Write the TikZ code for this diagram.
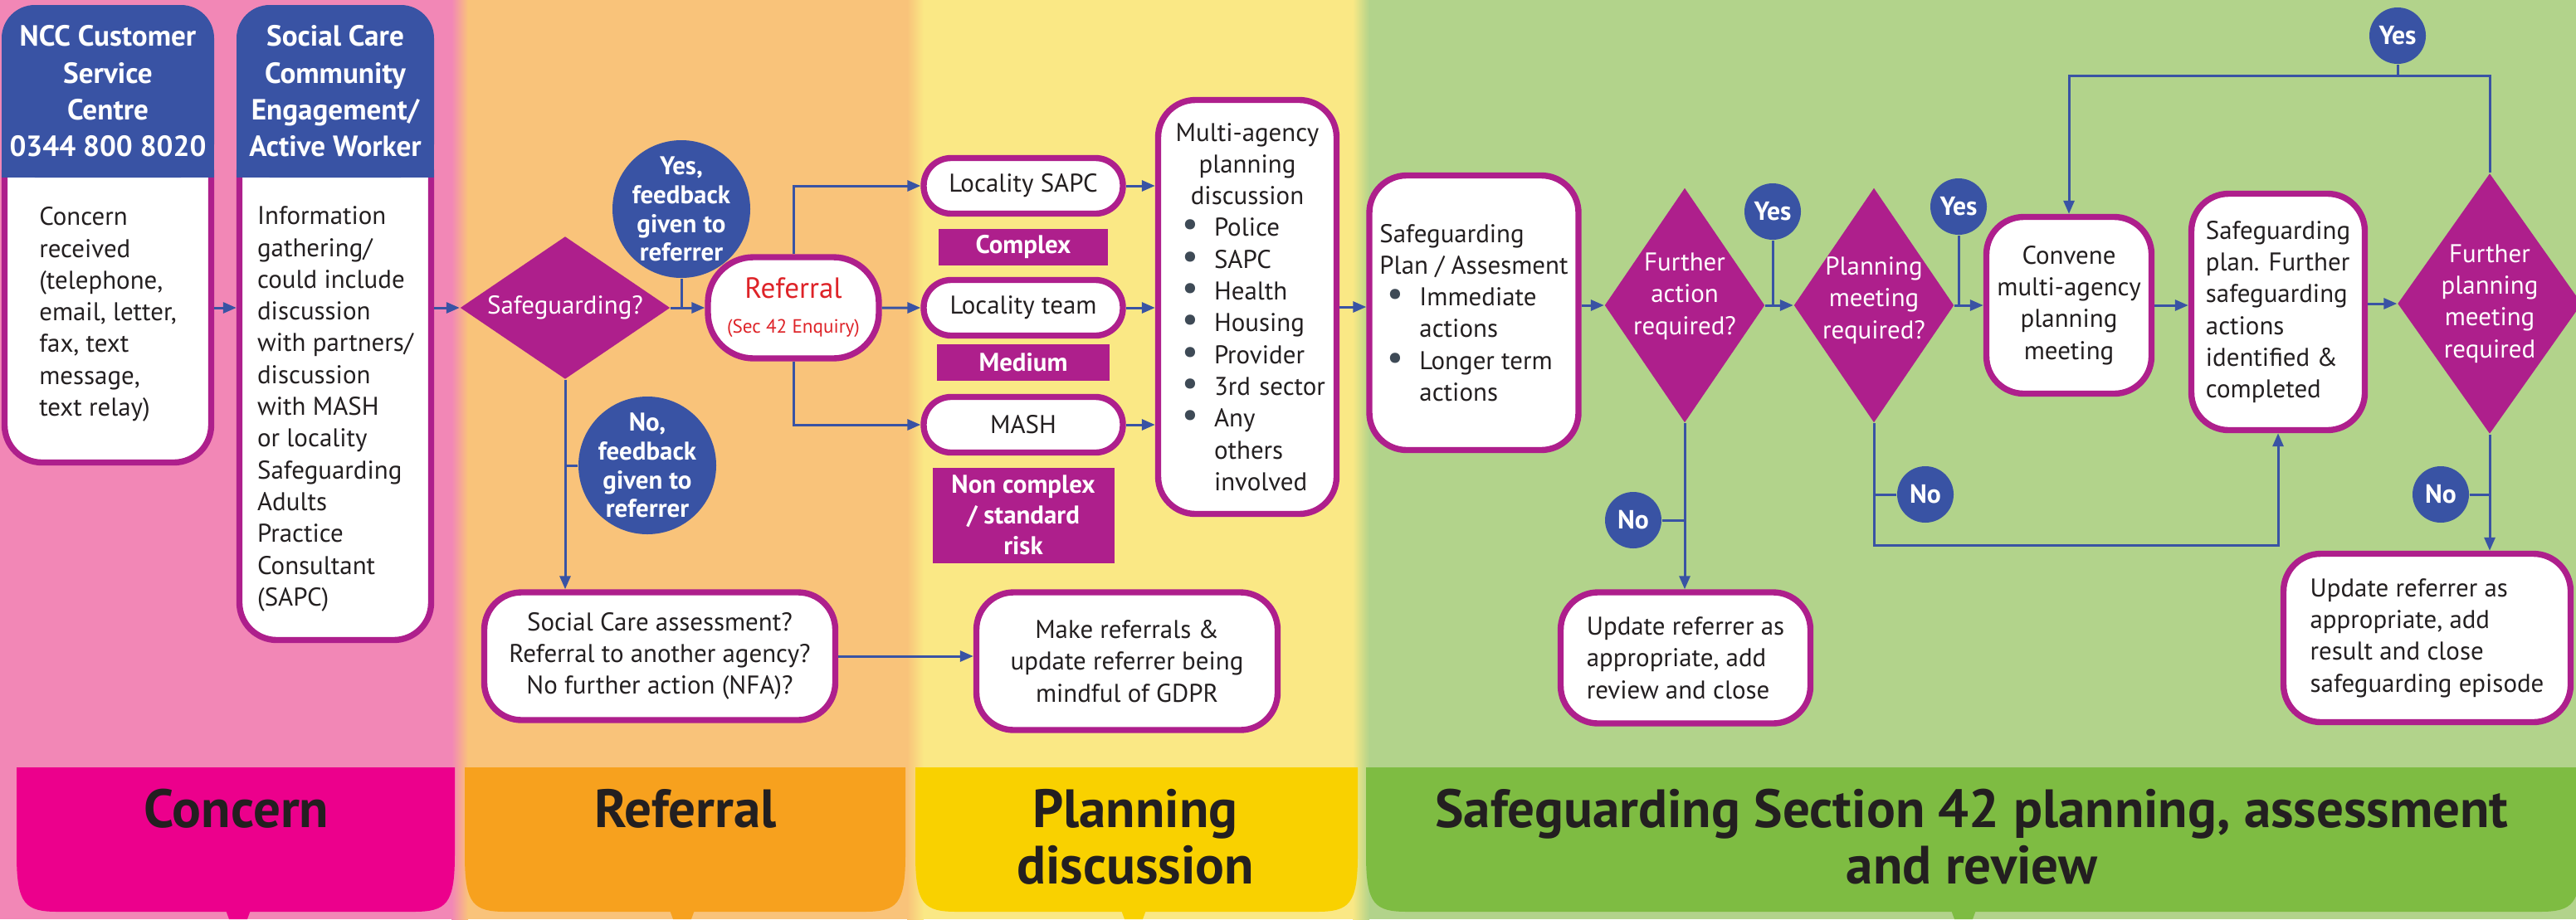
\documentclass[tikz,border=0pt]{standalone}
\usepackage{fontspec}
\setmainfont{PT Sans}
\usepackage{xcolor}
\usetikzlibrary{arrows.meta,shapes.geometric,positioning}

\definecolor{pinkbg}{RGB}{242,135,182}
\definecolor{orangebg}{RGB}{249,195,122}
\definecolor{yellowbg}{RGB}{250,232,133}
\definecolor{greenbg}{RGB}{178,211,139}
\definecolor{tabpink}{RGB}{236,0,140}
\definecolor{taborange}{RGB}{247,161,30}
\definecolor{tabyellow}{RGB}{249,209,0}
\definecolor{tabgreen}{RGB}{126,188,66}
\definecolor{boxmag}{RGB}{174,31,140}
\definecolor{ncblue}{RGB}{57,83,164}
\definecolor{txtdark}{RGB}{35,31,32}
\definecolor{refred}{RGB}{222,35,40}
\definecolor{dotgrey}{RGB}{62,74,86}

\newcommand{\agdot}{\makebox[0.39cm][l]{\smash{\textcolor{dotgrey}{\fontsize{12.5}{10}\selectfont\textbullet}}}}

\begin{document}
\begin{tikzpicture}[
  box/.style={draw=boxmag, line width=2.1pt, fill=white, rounded corners=0.45cm, text=txtdark, font=\fontsize{8.8}{10.9}\selectfont},
  loc/.style={box, rounded corners=0.33cm, minimum width=2.40cm, minimum height=0.67cm},
  bodytext/.style={text=txtdark, font=\fontsize{8.8}{10.9}\selectfont, align=left},
  hdrtext/.style={text=white, font=\bfseries\fontsize{10}{12.6}\selectfont, align=center},
  tag/.style={fill=boxmag, text=white, font=\bfseries\fontsize{8.8}{10.5}\selectfont, align=center, inner sep=0pt},
  dmd/.style={diamond, fill=boxmag, inner sep=0pt},
  dmdtext/.style={text=white, font=\fontsize{8.8}{10.9}\selectfont, align=center},
  fbk/.style={circle, fill=ncblue, minimum size=1.66cm, inner sep=0pt},
  fbktext/.style={text=white, font=\bfseries\fontsize{8.8}{9.9}\selectfont, align=center},
  yn/.style={circle, fill=ncblue, text=white, font=\bfseries\fontsize{9}{10}\selectfont, minimum size=0.68cm, inner sep=0pt},
  link/.style={draw=ncblue, line width=0.85pt},
  arr/.style={link, -{Triangle[length=0.16cm,width=0.13cm]}},
  tabtext/.style={text=txtdark, font=\bfseries\fontsize{18.5}{19.3}\selectfont, align=center}
]
\useasboundingbox (0,0) rectangle (31.04,-11.08);

% colour bands
\fill[pinkbg] (0,0) rectangle (5.54,-11.08);
\fill[orangebg] (5.54,0) rectangle (11.03,-11.08);
\fill[yellowbg] (11.03,0) rectangle (16.40,-11.08);
\fill[greenbg] (16.40,0) rectangle (31.04,-11.08);
\shade[left color=pinkbg, right color=orangebg] (5.44,0) rectangle (5.64,-11.08);
\shade[left color=orangebg, right color=yellowbg] (10.93,0) rectangle (11.13,-11.08);
\shade[left color=yellowbg, right color=greenbg] (16.30,0) rectangle (16.50,-11.08);

% stage tabs
\fill[tabpink] (0.20,-9.25) -- (0.20,-10.30) .. controls (0.20,-10.90) and (0.30,-10.99) .. (0.70,-10.99) -- (4.98,-10.99) .. controls (5.38,-10.99) and (5.48,-10.90) .. (5.48,-10.30) -- (5.48,-9.25) -- cycle;
\fill[tabpink] (2.72,-10.97) -- (2.76,-11.08) -- (2.98,-11.08) -- (3.02,-10.97) -- cycle;
\fill[taborange] (5.60,-9.25) -- (5.60,-10.30) .. controls (5.60,-10.90) and (5.70,-10.99) .. (6.10,-10.99) -- (10.41,-10.99) .. controls (10.81,-10.99) and (10.91,-10.90) .. (10.91,-10.30) -- (10.91,-9.25) -- cycle;
\fill[taborange] (8.07,-10.97) -- (8.11,-11.08) -- (8.33,-11.08) -- (8.37,-10.97) -- cycle;
\fill[tabyellow] (11.03,-9.25) -- (11.03,-10.30) .. controls (11.03,-10.90) and (11.13,-10.99) .. (11.53,-10.99) -- (15.86,-10.99) .. controls (16.26,-10.99) and (16.36,-10.90) .. (16.36,-10.30) -- (16.36,-9.25) -- cycle;
\fill[tabyellow] (13.51,-10.97) -- (13.55,-11.08) -- (13.77,-11.08) -- (13.81,-10.97) -- cycle;
\fill[tabgreen] (16.46,-9.25) -- (16.46,-10.30) .. controls (16.46,-10.90) and (16.56,-10.99) .. (16.96,-10.99) -- (30.60,-10.99) .. controls (31.00,-10.99) and (31.10,-10.90) .. (31.10,-10.30) -- (31.10,-9.25) -- cycle;
\fill[tabgreen] (23.51,-10.97) -- (23.55,-11.08) -- (23.77,-11.08) -- (23.81,-10.97) -- cycle;
\node[tabtext] (concerntab) at (2.85,-9.75) {Concern};
\node[tabtext] (referraltab) at (8.26,-9.75) {Referral};
\node[tabtext] (planningtab) at (13.68,-10.09) {Planning\\discussion};
\node[tabtext] (sectiontab) at (23.76,-10.09) {Safeguarding Section 42 planning, assessment\\and review};

% concern column
\node[box, minimum width=2.49cm, minimum height=3.94cm, label={[bodytext, yshift=-0.185cm]center:{Concern\\received\\(telephone,\\email, letter,\\fax, text\\message,\\text relay)}}] (nccbody) at (1.30,-3.605) {};
\fill[ncblue, rounded corners=0.4cm] (0.02,-2.14) rectangle (2.58,-0.06);
\fill[ncblue] (0.02,-2.14) rectangle (2.58,-1.00);
\node[hdrtext] (ncchdr) at (1.30,-1.10) {NCC Customer\\Service\\Centre\\0344 800 8020};

\node[box, minimum width=2.31cm, minimum height=6.08cm, label={[bodytext, yshift=-0.255cm]center:{Information\\gathering/\\could include\\discussion\\with partners/\\discussion\\with MASH\\or locality\\Safeguarding\\Adults\\Practice\\Consultant\\(SAPC)}}] (scbody) at (4.04,-4.675) {};
\fill[ncblue, rounded corners=0.4cm] (2.85,-2.14) rectangle (5.23,-0.06);
\fill[ncblue] (2.85,-2.14) rectangle (5.23,-1.00);
\node[hdrtext] (schdr) at (4.04,-1.10) {Social Care\\Community\\Engagement/\\Active Worker};

% referral column
\node[dmd, minimum width=2.53cm, minimum height=1.72cm, label={[dmdtext]center:Safeguarding?}] (sg) at (6.81,-3.71) {};
\node[fbk, label={[fbktext]center:{Yes,\\feedback\\given to\\referrer}}] (yesfb) at (8.21,-2.52) {};
\node[fbk, label={[fbktext]center:{No,\\feedback\\given to\\referrer}}] (nofb) at (7.80,-5.61) {};
\node[box, rounded corners=0.55cm, minimum width=2.06cm, minimum height=1.22cm, text=refred, align=center, font=\fontsize{10}{11}\selectfont] (referral) at (9.56,-3.71) {Referral\\[1pt]{\fontsize{6.6}{8}\selectfont (Sec 42 Enquiry)}};
\node[box, minimum width=4.23cm, minimum height=1.54cm, align=center] (sca) at (7.95,-7.91) {Social Care assessment?\\Referral to another agency?\\No further action (NFA)?};

% planning column
\node[loc] (locsapc) at (12.33,-2.24) {Locality SAPC};
\node[loc, below of=locsapc, node distance=1.47cm] (locteam) {Locality team};
\node[loc, below of=locteam, node distance=1.41cm] (mash) {MASH};
\node[tag, minimum width=2.04cm, minimum height=0.44cm, below of=locsapc, node distance=0.74cm] (complex) {Complex};
\node[tag, minimum width=2.08cm, minimum height=0.44cm, below of=locteam, node distance=0.66cm] (medium) {Medium};
\node[tag, minimum width=2.19cm, minimum height=1.15cm, below of=mash, node distance=1.09cm] (noncomplex) {Non complex\\/ standard\\risk};
\node[box, minimum width=2.15cm, minimum height=4.99cm, text width=1.9cm, align=left] (multi) at (15.03,-3.70) {{\centering Multi-agency\\planning\\discussion\par}
\hspace*{0.16cm}\agdot Police\\
\hspace*{0.16cm}\agdot SAPC\\
\hspace*{0.16cm}\agdot Health\\
\hspace*{0.16cm}\agdot Housing\\
\hspace*{0.16cm}\agdot Provider\\
\hspace*{0.16cm}\agdot 3rd sector\\
\hspace*{0.16cm}\agdot Any\\
\hspace*{0.55cm}others\\
\hspace*{0.55cm}involved};
\node[box, minimum width=3.63cm, minimum height=1.66cm, align=center] (mkref) at (13.58,-7.97) {Make referrals \&\\update referrer being\\mindful of GDPR};

% section 42 column
\node[box, minimum width=2.52cm, minimum height=3.31cm, align=left] (sgplan) at (17.76,-3.77) {Safeguarding\\Plan / Assesment\\\hspace*{0.09cm}\agdot Immediate\\\hspace*{0.48cm}actions\\\hspace*{0.09cm}\agdot Longer term\\\hspace*{0.48cm}actions};
\node[dmd, minimum width=1.93cm, minimum height=2.83cm, label={[dmdtext, yshift=0.11cm]center:{Further\\action\\required?}}] (further) at (20.30,-3.68) {};
\node[dmd, minimum width=1.93cm, minimum height=2.83cm, label={[dmdtext, yshift=0.06cm]center:{Planning\\meeting\\required?}}] (planmeet) at (22.58,-3.68) {};
\node[box, minimum width=1.99cm, minimum height=2.13cm, align=center] (convene) at (24.93,-3.68) {Convene\\multi-agency\\planning\\meeting};
\node[box, minimum width=2.09cm, minimum height=2.85cm, align=left] (sgactions) at (27.45,-3.76) {Safeguarding\\plan. Further\\safeguarding\\actions\\identified \&\\completed};
\node[dmd, minimum width=2.22cm, minimum height=3.14cm, label={[dmdtext]center:{Further\\planning\\meeting\\required}}] (planagain) at (30.00,-3.66) {};
\node[box, minimum width=3.01cm, minimum height=1.58cm, align=left] (closeone) at (20.31,-7.93) {Update referrer as\\appropriate, add\\review and close};
\node[box, minimum width=3.46cm, minimum height=2.03cm, align=left] (closetwo) at (29.245,-7.69) {Update referrer as\\appropriate, add\\result and close\\safeguarding episode};

\node[yn] (yes1) at (21.36,-2.55) {Yes};
\node[yn] (yes2) at (23.60,-2.49) {Yes};
\node[yn] (yes3) at (28.89,-0.43) {Yes};
\node[yn] (no1) at (19.68,-6.27) {No};
\node[yn] (no2) at (23.20,-5.96) {No};
\node[yn] (no3) at (29.41,-5.96) {No};
\coordinate (looptop) at (30.00,-0.915);
\coordinate (loopbot) at (22.58,-6.57);

% connectors
\draw[arr] (nccbody.east |- sg.west) -- (scbody.west |- sg.west);
\draw[arr] (scbody.east |- sg.west) -- (sg.west);
\draw[arr] (sg.east) -- (referral.west);
\draw[link] (yesfb.south) -- (yesfb.south |- referral.west);
\draw[arr] (sg.south) -- (sg.south |- sca.north);
\draw[link] (nofb.west) -- (nofb.west -| sg.south);
\draw[arr] (referral.north) |- (locsapc.west);
\draw[arr] (referral.east) -- (locteam.west);
\draw[arr] (referral.south) |- (mash.west);
\draw[arr] (locsapc.east) -- (locsapc.east -| multi.west);
\draw[arr] (locteam.east) -- (locteam.east -| multi.west);
\draw[arr] (mash.east) -- (mash.east -| multi.west);
\draw[arr] (sca.east) -- (sca.east -| mkref.west);
\draw[arr] (multi.east) -- (multi.east -| sgplan.west);
\draw[arr] (sgplan.east |- further.west) -- (further.west);
\draw[arr] (further.east) -- (planmeet.west);
\draw[link] (yes1.south) -- (yes1.south |- further.east);
\draw[arr] (planmeet.east) -- (planmeet.east -| convene.west);
\draw[link] (yes2.south) -- (yes2.south |- planmeet.east);
\draw[arr] (convene.east) -- (convene.east -| sgactions.west);
\draw[arr] (sgactions.east |- planagain.west) -- (planagain.west);
\draw[arr] (planagain.north) -- (looptop) -| (convene.north);
\draw[link] (yes3.south) -- (yes3.south |- looptop);
\draw[arr] (planagain.south) -- (planagain.south |- closetwo.north);
\draw[link] (no3.east) -- (no3.east -| planagain.south);
\draw[arr] (further.south) -- (further.south |- closeone.north);
\draw[link] (no1.east) -- (no1.east -| further.south);
\draw[arr] (planmeet.south) -- (loopbot) -| (sgactions.south);
\draw[link] (no2.west) -- (no2.west -| planmeet.south);
\end{tikzpicture}
\end{document}
